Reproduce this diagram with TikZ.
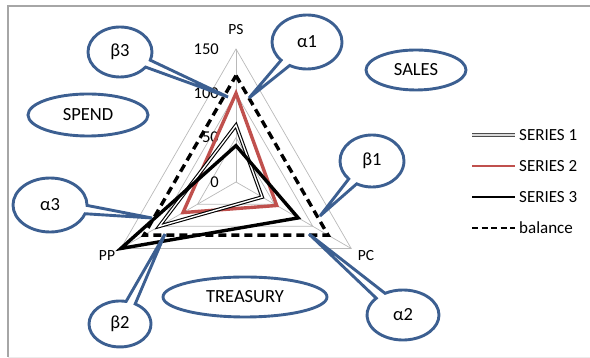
\documentclass[tikz,border=0pt]{standalone}
\usepackage{fontspec}
\setmainfont{Carlito}
\usetikzlibrary{shapes.geometric,shapes.callouts}
\definecolor{shapeblue}{RGB}{60,95,145}
\definecolor{seriesred}{RGB}{192,80,77}
\def\rs{0.8867}
\tikzset{x=1pt, y=1pt,
  gridline/.style={draw=gray!55, line width=0.7pt},
  seriesone/.style={draw=black, double=white, line width=1.1pt, double distance=1.4pt},
  seriestwo/.style={draw=seriesred, line width=3.4pt},
  seriesthree/.style={draw=black, line width=3.4pt},
  balanceline/.style={draw=black, line width=3.4pt, dash pattern=on 8pt off 5pt},
  axislabel/.style={font=\fontsize{16.5}{16.5}\selectfont, inner sep=0pt},
  spokelabel/.style={font=\fontsize{15.5}{15.5}\selectfont, inner sep=0pt},
  legendtext/.style={font=\fontsize{17}{17}\selectfont, inner sep=0pt, anchor=west},
  bubble/.style={ellipse, draw=shapeblue, line width=2.9pt, inner sep=1pt,
    font=\fontsize{18.5}{18.5}\selectfont},
  talk/.style={ellipse callout, draw=shapeblue, line width=2.9pt, inner sep=1pt,
    callout pointer arc=18, font=\fontsize{18.5}{18.5}\selectfont}}

\begin{document}
\begin{tikzpicture}
  \useasboundingbox (0,0) rectangle (590,358);
  % frame
  \draw[gray!70, line width=1.8pt] (590,352) -- (8,352) -- (8,1);
  \draw[gray!15, line width=0.8pt] (8,1) -- (590,1);

  % radar chart
  \begin{scope}[shift={(236,176)}]
    \coordinate (O) at (0,0);
    \foreach \a in {90,210,330}
      \draw[gridline] (O) -- (\a:{150*\rs});
    \foreach \v in {50,100,150}
      \draw[gridline] (90:{\v*\rs}) -- (210:{\v*\rs}) -- (330:{\v*\rs}) -- cycle;
    \foreach \v in {0,50,100,150}
      \node[axislabel, anchor=east] (val\v) at (-17,{\v*\rs}) {\v};

    \draw[balanceline] (90:{120*\rs}) -- (330:{120*\rs}) -- (210:{120*\rs}) -- cycle;
    \draw[seriestwo] (90:{100*\rs}) -- (330:{53*\rs}) -- (210:{69*\rs}) -- cycle;
    \draw[seriesone] (90:{64*\rs}) -- (330:{34*\rs}) -- (210:{100*\rs}) -- cycle;
    \draw[seriesthree] (90:{41*\rs}) -- (330:{81*\rs}) -- (210:{150*\rs}) -- cycle;

    \node[spokelabel] (PS) at (0,152) {PS};
    \node[spokelabel] (PP) at (-129,-74) {PP};
    \node[spokelabel] (PC) at (130,-74) {PC};
  \end{scope}

  % legend
  \node[legendtext] (leg1) at (519,223) {SERIES 1};
  \node[legendtext] (leg2) at (519,192) {SERIES 2};
  \node[legendtext] (leg3) at (519,161) {SERIES 3};
  \node[legendtext] (leg4) at (519,130) {balance};
  \draw[seriesone, draw=gray!60!black, double=gray!30] (472,223) -- (515,223);
  \draw[seriestwo, line width=2.6pt] (472,192) -- (515,192);
  \draw[seriesthree, line width=2.6pt] (472,161) -- (515,161);
  \draw[balanceline, line width=2.6pt, dash pattern=on 6pt off 3.5pt] (472,130) -- (515,130);

  % plain ellipses
  \node[bubble, minimum width=100pt, minimum height=40pt] (sales) at (416,288) {SALES};
  \node[bubble, minimum width=120pt, minimum height=42pt] (spend) at (88,243) {SPEND};
  \node[bubble, minimum width=164pt, minimum height=40pt] (treasury) at (245,61) {TREASURY};

  % callouts
  \coordinate (b3tip) at (228,261);
  \coordinate (a1tip) at (249,260);
  \coordinate (b1tip) at (320,142);
  \coordinate (a2tip) at (309,124);
  \coordinate (a3tip) at (152,140);
  \coordinate (b2tip) at (165,124);
  \node[talk, minimum width=64pt, minimum height=50pt, callout absolute pointer={(b3tip)}] (b3) at (120,306) {β3};
  \node[talk, minimum width=70pt, minimum height=54pt, callout absolute pointer={(a1tip)}] (a1) at (307,316) {α1};
  \node[talk, minimum width=64pt, minimum height=52pt, callout absolute pointer={(b1tip)}] (b1) at (372,197) {β1};
  \node[talk, minimum width=72pt, minimum height=50pt, callout absolute pointer={(a2tip)}] (a2) at (403,43) {α2};
  \node[talk, minimum width=74pt, minimum height=54pt, callout absolute pointer={(a3tip)}] (a3) at (50,153) {α3};
  \node[talk, minimum width=62pt, minimum height=46pt, callout absolute pointer={(b2tip)}] (b2) at (120,34) {β2};
\end{tikzpicture}
\end{document}
